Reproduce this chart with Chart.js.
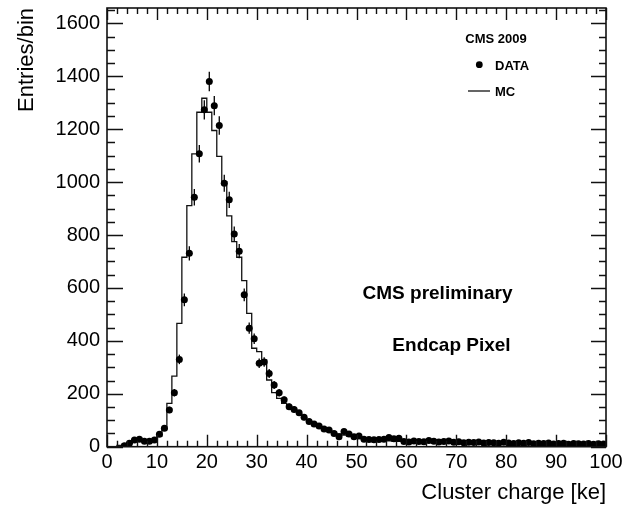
<!DOCTYPE html>
<html><head><meta charset="utf-8">
<script src="https://cdn.jsdelivr.net/npm/chart.js@4.4.0/dist/chart.umd.min.js"></script>
<style>html,body{margin:0;padding:0;background:#fff;}#wrap{width:624px;height:509px;position:relative;}</style>
</head><body><div id="wrap"><canvas id="c" width="624" height="509"></canvas></div>
<script>
// ---- data ----
const binWidth = 1;
const binLow = [0,1,2,3,4,5,6,7,8,9,10,11,12,13,14,15,16,17,18,19,20,21,22,23,24,25,26,27,28,29,30,31,32,33,34,35,36,37,38,39,40,41,42,43,44,45,46,47,48,49,50,51,52,53,54,55,56,57,58,59,60,61,62,63,64,65,66,67,68,69,70,71,72,73,74,75,76,77,78,79,80,81,82,83,84,85,86,87,88,89,90,91,92,93,94,95,96,97,98,99];
const dataValues = [null,null,null,4,13,25,28,21,21,25,
47,70,139,204,330,555,731,943,1107,1273,
1380,1289,1214,996,933,804,739,574,448,408,
315,320,277,233,204,177,151,141,128,111,
95,86,78,67,63,50,38,57,48,38,
40,28,27,26,27,28,35,30,32,20,
18,22,20,19,23,21,18,20,22,17,
19,15,17,16,18,14,16,15,13,17,
14,12,15,13,16,11,13,12,14,10,
12,13,9,12,11,10,12,9,11,10];
const dataErrors = [null,null,null,2,4,5,5,5,5,5,
7,8,12,14,18,24,27,31,33,36,
37,36,35,32,31,28,27,24,21,20,
18,18,17,15,14,13,12,12,11,11,
10,9,9,8,8,7,6,8,7,6,
6,5,5,5,5,5,6,5,6,4,
4,5,4,4,5,5,4,4,5,4,
4,4,4,4,4,4,4,4,4,4,
4,3,4,4,4,3,4,3,4,3,
3,4,3,3,3,3,3,3,3,3];
const mcValues = [0,0,5,10,15,20,22,22,23,25,
40,65,164,267,466,716,911,1107,1264,1317,
1264,1195,1097,1002,872,775,716,628,504,372,
359,328,252,204,183,164,150,138,125,110,
97,87,78,70,62,55,48,44,40,36,
32,29,27,25,24,23,22,21,20,19,
18,18,17,17,16,16,16,15,15,15,
14,14,14,13,13,13,13,12,12,12,
12,12,11,11,11,11,11,10,10,10,
10,10,10,9,9,9,9,9,9,9];
const xTickLabels = [0,10,20,30,40,50,60,70,80,90,100];
const yTickLabels = [0,200,400,600,800,1000,1200,1400,1600];
const seriesNames = ['DATA','MC'];
const legendTitle = 'CMS 2009';
const xTitle = 'Cluster charge [ke]';
const yTitle = 'Entries/bin';
const notes = ['CMS preliminary','Endcap Pixel'];

// ---- build ----
const FONT = '"Liberation Sans", Arial, Helvetica, sans-serif';
const dataPts = [];
binLow.forEach((lo,i)=>{ if(dataValues[i]!==null) dataPts.push({x: lo + binWidth/2, y: dataValues[i], e: dataErrors[i]}); });
const mcPts = binLow.map((lo,i)=>({x: lo, y: mcValues[i]}));
mcPts.push({x: binLow[binLow.length-1] + binWidth, y: mcValues[mcValues.length-1]});

const decor = {
  id: 'decor',
  afterDatasetsDraw(chart){
    const ctx = chart.ctx, xs = chart.scales.x, ys = chart.scales.y;
    ctx.save();
    ctx.strokeStyle = '#000'; ctx.lineWidth = 1.3;
    dataPts.forEach(p=>{
      const px = xs.getPixelForValue(p.x);
      ctx.beginPath();
      ctx.moveTo(px, ys.getPixelForValue(p.y - p.e));
      ctx.lineTo(px, ys.getPixelForValue(p.y + p.e));
      ctx.stroke();
    });
    ctx.restore();
  },
  afterDraw(chart){
    const ctx = chart.ctx, xs = chart.scales.x, ys = chart.scales.y, a = chart.chartArea;
    ctx.save();
    ctx.strokeStyle = '#111'; ctx.lineWidth = 1.4;
    for(let v = xs.min; v <= xs.max + 1e-9; v += 2){
      const major = Math.abs(v % 10) < 1e-9;
      const px = Math.round(xs.getPixelForValue(v)) + 0.5;
      const L = major ? 12 : 6;
      ctx.beginPath();
      ctx.moveTo(px, a.bottom); ctx.lineTo(px, a.bottom - L);
      ctx.moveTo(px, a.top); ctx.lineTo(px, a.top + L);
      ctx.stroke();
    }
    for(let v = 0; v <= ys.max + 1e-9; v += 50){
      const major = Math.abs(v % 200) < 1e-9;
      const py = Math.round(ys.getPixelForValue(v)) + 0.5;
      ctx.beginPath();
      ctx.moveTo(a.left, py); ctx.lineTo(a.left + (major ? 16 : 8), py);
      ctx.moveTo(a.right, py); ctx.lineTo(a.right - (major ? 15 : 7), py);
      ctx.stroke();
    }
    ctx.lineWidth = 1.6;
    ctx.strokeRect(a.left, a.top, a.right - a.left, a.bottom - a.top);
    ctx.fillStyle = '#000';
    ctx.textBaseline = 'alphabetic';
    ctx.font = 'bold 13px ' + FONT;
    ctx.textAlign = 'center';
    ctx.fillText(legendTitle, 496, 43);
    ctx.textAlign = 'left';
    ctx.fillText(seriesNames[0], 495, 70);
    ctx.fillText(seriesNames[1], 495, 96);
    ctx.beginPath(); ctx.arc(479.3, 64.7, 3.4, 0, Math.PI*2); ctx.fill();
    ctx.lineWidth = 1.3;
    ctx.beginPath(); ctx.moveTo(468, 91); ctx.lineTo(490, 91); ctx.stroke();
    ctx.font = 'bold 19px ' + FONT;
    ctx.textAlign = 'center';
    ctx.fillText(notes[0], 437.5, 299);
    ctx.fillText(notes[1], 451.5, 350.5);
    ctx.restore();
  }
};

new Chart(document.getElementById('c'), {
  type: 'scatter',
  data: { datasets: [
    { label: seriesNames[0], type: 'scatter', data: dataPts, pointRadius: 3.5, pointHoverRadius: 3.5,
      backgroundColor: '#000', borderColor: '#000', borderWidth: 0, order: 0 },
    { label: seriesNames[1], type: 'line', data: mcPts, stepped: 'before', borderColor: '#111',
      borderWidth: 1.3, pointRadius: 0, fill: false, order: 1 }
  ]},
  options: {
    responsive: false, animation: false, devicePixelRatio: 1,
    layout: { padding: { left: 0, right: 18, top: 8, bottom: 0 } },
    plugins: { legend: { display: false }, tooltip: { enabled: false } },
    scales: {
      x: { type: 'linear', min: 0, max: 100,
        afterBuildTicks: s => { s.ticks = xTickLabels.map(v => ({ value: v })); },
        afterFit: s => { s.height = 62.3; s.paddingLeft = 0; s.paddingRight = 0; },
        ticks: { color: '#000', font: { family: FONT, size: 20 }, padding: 4, maxRotation: 0, autoSkip: false, callback: v => String(v) },
        grid: { display: false, drawTicks: false }, border: { display: false },
        title: { display: true, text: xTitle, align: 'end', color: '#000', font: { family: FONT, size: 22 }, padding: { top: 0, bottom: 3 } }
      },
      y: { type: 'linear', min: 0, max: 1658,
        afterBuildTicks: s => { s.ticks = yTickLabels.map(v => ({ value: v })); },
        afterFit: s => { s.width = 107; s.paddingTop = 0; s.paddingBottom = 0; },
        ticks: { color: '#000', font: { family: FONT, size: 20 }, padding: 7, autoSkip: false, callback: v => String(v) },
        grid: { display: false, drawTicks: false }, border: { display: false },
        title: { display: true, text: yTitle, align: 'end', color: '#000', font: { family: FONT, size: 22 }, padding: { top: 14 } }
      }
    }
  },
  plugins: [decor]
});
</script></body></html>
